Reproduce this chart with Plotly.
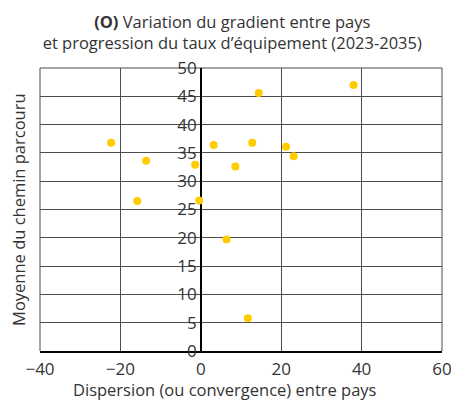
import plotly.graph_objects as go

# Dispersion (x) vs moyenne du chemin parcouru (y)
dispersion = [38.0, 14.4, -22.3, 3.2, 12.8, 21.2, 23.1, -13.6, -1.4, 8.6, -15.8, -0.4, 6.4, 11.7]
moyenne = [47.0, 45.6, 36.8, 36.4, 36.8, 36.1, 34.4, 33.6, 32.9, 32.6, 26.5, 26.6, 19.7, 5.8]

x_ticks = [-40, -20, 0, 20, 40, 60]
y_ticks = [0, 5, 10, 15, 20, 25, 30, 35, 40, 45, 50]

FONT = "Open Sans"
TEXT = "#333333"
GRID = "#4d4d4d"

fig = go.Figure()
fig.add_trace(go.Scatter(
    x=dispersion, y=moyenne, mode="markers",
    marker=dict(color="#ffcc00", size=8, line=dict(width=0)),
    showlegend=False,
))

# plotly drops grid lines sitting on the range ends, so draw the frame edges
edge = dict(color=GRID, width=1)
frame = [
    dict(type="line", xref="paper", yref="paper", x0=0, x1=0, y0=0, y1=1, line=edge, layer="below"),
    dict(type="line", xref="paper", yref="paper", x0=1, x1=1, y0=0, y1=1, line=edge, layer="below"),
    dict(type="line", xref="paper", yref="paper", x0=0, x1=1, y0=1, y1=1, line=edge, layer="below"),
]

fig.update_layout(
    width=451, height=400,
    margin=dict(l=40, r=9, t=68, b=49),
    paper_bgcolor="white", plot_bgcolor="white",
    font=dict(family=FONT, color=TEXT),
    title=dict(
        text="<b>(O)</b> Variation du gradient entre pays<br>et progression du taux d\u2019\u00e9quipement (2023-2035)",
        x=0.515, xanchor="center", y=0.93, yanchor="top",
        font=dict(size=16.5, family=FONT, color=TEXT),
    ),
    xaxis=dict(
        range=[-40, 60], tickvals=x_ticks, ticks="",
        showgrid=True, gridcolor=GRID, gridwidth=1,
        zeroline=True, zerolinecolor="black", zerolinewidth=2,
        showline=True, linecolor="black", linewidth=1.5,
        tickfont=dict(size=17, color=TEXT), ticklabelstandoff=2,
        ticklabeloverflow="allow", automargin=False,
    ),
    yaxis=dict(
        range=[0, 50], tickvals=y_ticks, ticks="",
        anchor="free", position=0.4, automargin=False,
        showgrid=True, gridcolor=GRID, gridwidth=1,
        zeroline=False, showline=False,
        tickfont=dict(size=17, color=TEXT), ticklabelstandoff=4,
    ),
    shapes=frame,
    annotations=[
        dict(text="Dispersion (ou convergence) entre pays", xref="paper", yref="paper",
             x=0.46, y=-0.088, xanchor="center", yanchor="top", showarrow=False,
             font=dict(size=16.5, family=FONT, color=TEXT)),
        dict(text="Moyenne du chemin parcouru", xref="paper", yref="paper",
             x=-0.02, y=0.5, xanchor="right", yanchor="middle", textangle=-90,
             showarrow=False, font=dict(size=16.5, family=FONT, color=TEXT)),
    ],
)

# drop the default 8px body margin so the 451x400 figure fits the window
fig.write_html("out.html", config={"displayModeBar": False},
               post_script="document.body.style.margin='0';")
